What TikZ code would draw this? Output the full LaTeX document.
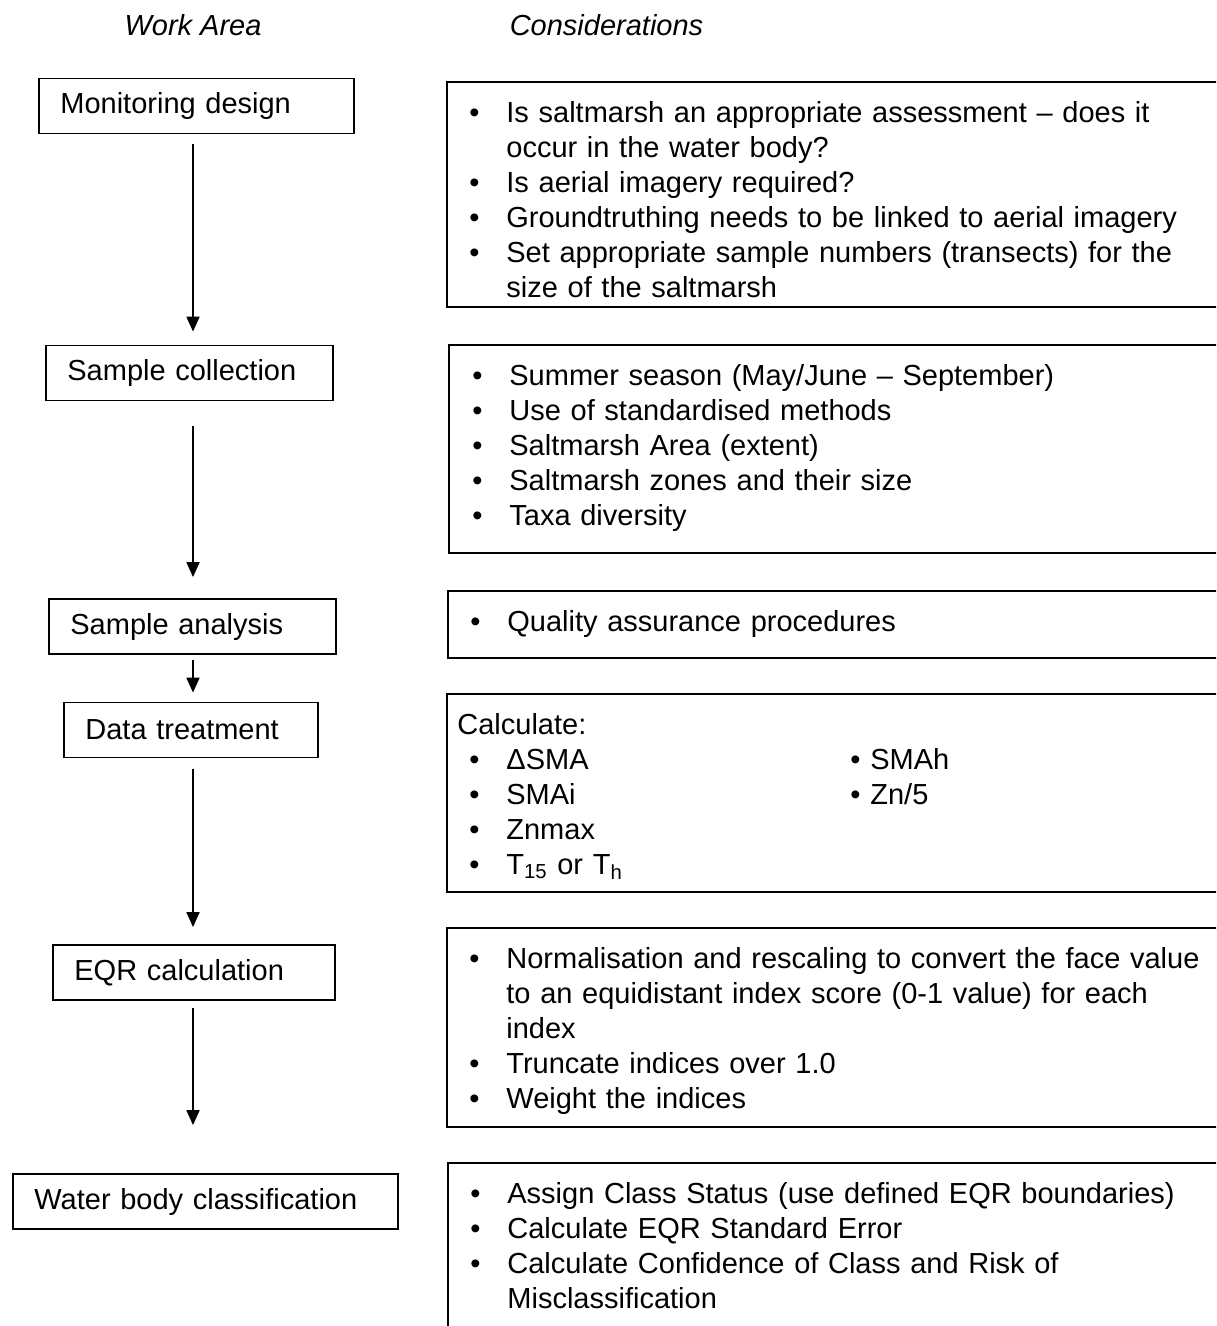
\documentclass[tikz,border=0pt]{standalone}
\usepackage{fontspec}
\setmainfont{Liberation Sans}
\usetikzlibrary{arrows.meta,positioning}
\newcommand{\bul}[1]{\noindent\hangindent=29.5pt\hangafter=1%
  \hbox to 29.5pt{\hspace{11pt}\textbullet\hfil}\strut#1\par}
\newcommand{\sidebul}[1]{\noindent\hbox to 10pt{\textbullet\hfil}\strut#1\par}
\tikzset{
  txt/.style={font=\fontsize{14.5}{17.5}\selectfont},
  head/.style={txt,font=\fontsize{14.5}{17.5}\selectfont\itshape,inner sep=0pt},
  workbox/.style={txt,draw,line width=0.9pt,anchor=west,inner xsep=10.75pt,
    minimum height=27.5pt,align=left},
  consframe/.style={line width=0.9pt},
  consnote/.style={txt,anchor=north west,inner xsep=0pt,inner ysep=7.75pt,
    text width=390pt,align=left},
  flow/.style={line width=0.9pt,-{Triangle[width=6.5pt,length=7.5pt]}}
}
\begin{document}
\begin{tikzpicture}[x=0.5pt,y=-0.5pt]
  \useasboundingbox (0,0) rectangle (1216,1326);
  \clip (0,0) rectangle (1216,1326);
  % column titles
  \node[head] (wa) at (193,25) {Work Area};
  \node[head] (cons) at (606.5,25) {Considerations};
  % work areas
  \node[workbox,text width=136pt] (md) at (38,106) {Monitoring design};
  \node[workbox,text width=122pt] (sc) at (45,373) {Sample collection};
  \node[workbox,text width=122pt] (sa) at (48,626.5) {Sample analysis};
  \node[workbox,text width=105.5pt] (dt) at (63,730) {Data treatment};
  \node[workbox,text width=119.5pt] (eqr) at (52,972.5) {EQR calculation};
  \node[workbox,text width=171pt] (wb) at (12,1201.5) {Water body classification};
  \coordinate (ax) at (193,0);
  \foreach \a/\b/\s/\e in {md/sc/5/6.5,sc/sa/12.5/10.5,sa/dt/2.5/4.5,
                           dt/eqr/5.5/8.5,eqr/wb/3.5/24}
    \draw[flow,shorten <=\s pt,shorten >=\e pt] (\a.south -| ax) -- (\b.north -| ax);
  % considerations
  \draw[consframe] (447,82) rectangle (1240,307);
  \node[consnote] (c1) at (447,82) {%
    \bul{Is saltmarsh an appropriate assessment – does it\newline occur in the water body?}%
    \bul{Is aerial imagery required?}%
    \bul{Groundtruthing needs to be linked to aerial imagery}%
    \bul{Set appropriate sample numbers (transects) for the\newline size of the saltmarsh}};
  \draw[consframe] (449,345) rectangle (1240,553);
  \node[consnote] (c2) at (450,345) {%
    \bul{Summer season (May/June – September)}%
    \bul{Use of standardised methods}%
    \bul{Saltmarsh Area (extent)}%
    \bul{Saltmarsh zones and their size}%
    \bul{Taxa diversity}};
  \draw[consframe] (448,591) rectangle (1240,658);
  \node[consnote] (c3) at (448,591) {\bul{Quality assurance procedures}};
  \draw[consframe] (447,694) rectangle (1240,892);
  \node[consnote] (c4) at (447,694) {%
    \noindent\hspace{5pt}\strut Calculate:\par
    \bul{ΔSMA}\bul{SMAi}\bul{Znmax}%
    \bul{T\textsubscript{15} or T\textsubscript{h}}};
  \node[consnote,text width=80pt] (c4b) at (850,729) {\sidebul{SMAh}\sidebul{Zn/5}};
  \draw[consframe] (447,928) rectangle (1240,1127);
  \node[consnote] (c5) at (447,928) {%
    \bul{Normalisation and rescaling to convert the face value\newline to an equidistant index score (0-1 value) for each\newline index}%
    \bul{Truncate indices over 1.0}%
    \bul{Weight the indices}};
  \draw[consframe] (448,1163) rectangle (1240,1340);
  \node[consnote] (c6) at (448,1163) {%
    \bul{Assign Class Status (use defined EQR boundaries)}%
    \bul{Calculate EQR Standard Error}%
    \bul{Calculate Confidence of Class and Risk of\newline Misclassification}};
\end{tikzpicture}
\end{document}
